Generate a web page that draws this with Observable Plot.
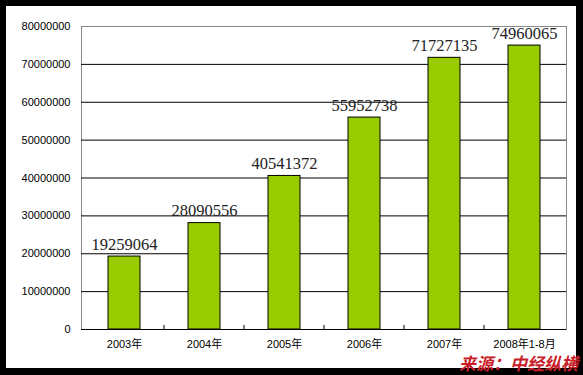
<!DOCTYPE html>
<html>
<head>
<meta charset="utf-8">
<script src="https://cdn.jsdelivr.net/npm/d3@7"></script>
<script src="https://cdn.jsdelivr.net/npm/@observablehq/plot@0.6"></script>
<style>
  html, body { margin: 0; padding: 0; background: #000; }
  #frame { position: relative; width: 583px; height: 375px; background: #000; overflow: hidden; }
  #chart { position: absolute; left: 6px; top: 6px; width: 570px; height: 362px; background: #fff; }
  #chart svg { display: block; }
  #source { position: absolute; right: 5px; top: 354px; color: #c8202a; font: italic bold 17px "Noto Sans CJK SC", sans-serif; white-space: nowrap; line-height: 17px; }
</style>
</head>
<body>
<div id="frame">
  <div id="chart"></div>
  <div id="source">来源：中经纵横</div>
</div>
<script>
const categories = ["2003年", "2004年", "2005年", "2006年", "2007年", "2008年1-8月"];
const values = [19259064, 28090556, 40541372, 55952738, 71727135, 74960065];
const yTicks = [0, 10000000, 20000000, 30000000, 40000000, 50000000, 60000000, 70000000, 80000000];
const gridLines = [10000000, 20000000, 30000000, 40000000, 50000000, 60000000, 70000000];

const data = categories.map((c, i) => ({category: c, value: values[i]}));
const sansFont = '"Liberation Sans", Arial, "Noto Sans CJK SC", sans-serif';

const plot = Plot.plot({
  width: 570,
  height: 362,
  marginLeft: 75,
  marginTop: 20,
  marginRight: 10,
  marginBottom: 39,
  style: {background: "#fff", fontFamily: sansFont, fontSize: "11px", color: "#000", overflow: "visible"},
  x: {domain: categories, paddingInner: 0.6, paddingOuter: 0.3, label: null, tickSize: 0, tickPadding: 11, fontSize: 11},
  y: {domain: [0, 80000000], ticks: yTicks, tickFormat: d => String(d), tickSize: 0, tickPadding: 11, line: true, label: null},
  marks: [
    Plot.frame({stroke: "#888"}),
    Plot.ruleY(gridLines, {stroke: "#000", strokeWidth: 1}),
    Plot.barY(data, {x: "category", y: "value", fill: "#99cc00", stroke: "#000", strokeWidth: 1}),
    Plot.ruleY([0], {stroke: "#000"}),
    Plot.text(data, {x: "category", y: "value", text: d => String(d.value), lineAnchor: "bottom", dy: -7,
      fontFamily: '"Liberation Serif", "Times New Roman", serif', fontSize: 16.5, fill: "#222"})
  ]
});

document.getElementById("chart").appendChild(plot);

// boundary tick marks between categories on the bottom axis, placed with the band scale
const xs = plot.scale("x");
const ys = plot.scale("y");
const y0 = ys.apply(0);
const svg = d3.select(plot);
const bounds = categories.slice(1).map(c => xs.apply(c) + xs.bandwidth / 2 - xs.step / 2);
svg.append("g")
  .selectAll("line")
  .data(bounds)
  .join("line")
  .attr("x1", d => d).attr("x2", d => d)
  .attr("y1", y0).attr("y2", y0 - 4)
  .attr("stroke", "#000");
</script>
</body>
</html>
